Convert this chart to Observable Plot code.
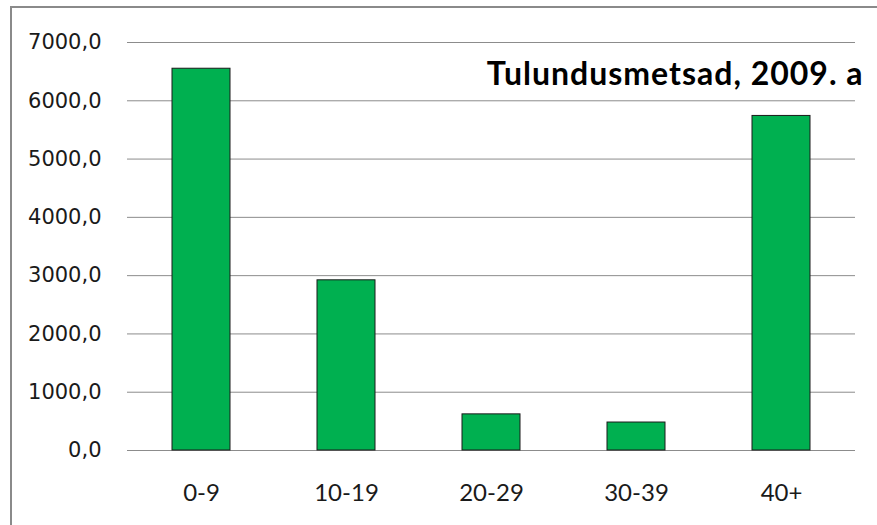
<!DOCTYPE html>
<html>
<head>
<meta charset="utf-8">
<script src="https://cdn.jsdelivr.net/npm/d3@7"></script>
<script src="https://cdn.jsdelivr.net/npm/@observablehq/plot@0.6"></script>
<style>
  html, body { margin: 0; padding: 0; background: #fff; overflow: hidden; }
  #frame { position: absolute; left: 10px; top: 6px; width: 900px; height: 560px; border: 2px solid #8a8a8a; }
  #chart { position: absolute; left: 0; top: 0; }
</style>
</head>
<body>
<div id="frame"></div>
<div id="chart"></div>
<script>
const categories = ["0-9", "10-19", "20-29", "30-39", "40+"];
const values = [6550, 2920, 620, 480, 5740];
const yTicks = [0, 1000, 2000, 3000, 4000, 5000, 6000, 7000];
const title = "Tulundusmetsad, 2009. a";

const data = categories.map((c, i) => ({category: c, value: values[i]}));

const chart = Plot.plot({
  width: 877,
  height: 525,
  marginLeft: 127,
  marginRight: 22,
  marginTop: 42,
  marginBottom: 75,
  style: {background: "transparent", overflow: "visible"},
  x: {domain: categories, paddingInner: 0.6, paddingOuter: 0.3, label: null},
  y: {domain: [0, 7000], label: null},
  marks: [
    Plot.ruleY(yTicks, {stroke: "#8c8c8c", strokeWidth: 1}),
    Plot.ruleX([0], {frameAnchor: "left", stroke: "#8c8c8c", strokeWidth: 1, y1: 0, y2: 7000}),
    Plot.barY(data, {x: "category", y: "value", fill: "#00B050", stroke: "#1a1a1a", strokeWidth: 1, insetLeft: 0, insetRight: 0}),
    Plot.axisY(yTicks, {tickSize: 0, tickPadding: 26, tickFormat: d => d.toFixed(1).replace(".", ","), fontSize: 21, fontFamily: "DejaVu Sans", fill: "#1a1a1a", label: null}),
    Plot.axisX({tickSize: 0, tickPadding: 33, fontSize: 24, fontFamily: "Lato", fill: "#1a1a1a", label: null}),
    Plot.text([title], {frameAnchor: "top-right", text: d => d, textAnchor: "end", lineAnchor: "bottom", dx: 8, dy: 42, fontSize: 32, fontWeight: "bold", fontFamily: "Lato", fill: "#000", className: "chart-title"})
  ]
});
d3.select(chart).selectAll(".chart-title text").style("letter-spacing", "1px");
document.getElementById("chart").appendChild(chart);
</script>
</body>
</html>
